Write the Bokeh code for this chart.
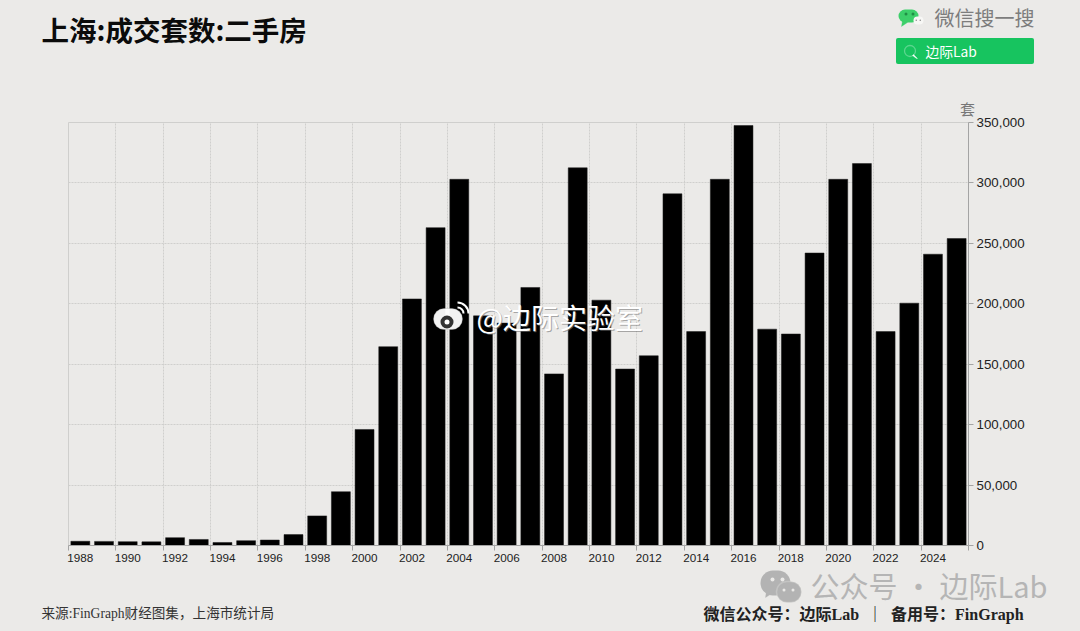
from math import pi
from bokeh.embed import file_html
from bokeh.resources import INLINE
from bokeh.plotting import figure
from bokeh.models import (Range1d, LinearAxis, FixedTicker, CustomJSTickFormatter, NumeralTickFormatter,
                          Grid, Label, BoxAnnotation, PolyAnnotation)

years = list(range(1988, 2026))
deals = [3500, 3400, 3200, 3000, 6500, 5000, 2500, 4000, 4500, 9000,
         24500, 44500, 96000, 164500, 204000, 263000, 303000, 190000, 184000, 213500,
         142000, 312500, 203000, 146000, 157000, 291000, 177000, 303000, 347500, 179000,
         175000, 242000, 303000, 316000, 177000, 200500, 241000, 254000]
label_years = list(range(1988, 2025, 2))
grid_years = list(range(1988, 2027, 2))
y_ticks = [0, 50000, 100000, 150000, 200000, 250000, 300000, 350000]

BG = "#ebeae8"
GRID = "#cfcfcd"
AX = "#a4a4a4"
CJK = "Noto Sans CJK SC"
SERIF = "Liberation Serif, Noto Sans CJK SC"

p = figure(width=1080, height=631, output_backend="svg", toolbar_location=None,
           x_range=Range1d(1988, 2026), y_range=Range1d(0, 350000),
           x_axis_location=None, y_axis_location=None,
           min_border_left=68, min_border_top=122, min_border_right=112, min_border_bottom=86,
           frame_width=900, frame_height=423,
           background_fill_color=BG, border_fill_color=BG,
           outline_line_color=GRID, outline_line_width=1)
p.styles = {"position": "absolute", "left": "0", "top": "0"}

p.vbar(x=[y + 0.5 for y in years], top=deals, bottom=0, width=0.8,
       fill_color="#000000", line_color="#1a1a1a", line_width=0.5)

xaxis = LinearAxis(
    ticker=FixedTicker(ticks=[y + 0.5 for y in label_years], minor_ticks=grid_years),
    formatter=CustomJSTickFormatter(code="return String(Math.floor(tick))"),
    major_tick_out=0, major_tick_in=0, minor_tick_out=5, minor_tick_in=0,
    minor_tick_line_color=AX, axis_line_color=AX,
    major_label_text_font="Liberation Sans", major_label_text_font_size="11.7px",
    major_label_text_color="#222222", major_label_standoff=3)
p.add_layout(xaxis, "below")

yaxis = LinearAxis(
    ticker=FixedTicker(ticks=y_ticks), formatter=NumeralTickFormatter(format="0,0"),
    major_tick_out=5, major_tick_in=0, minor_tick_out=0, minor_tick_in=0,
    major_tick_line_color=AX, axis_line_color=AX,
    major_label_text_font="Liberation Sans", major_label_text_font_size="13.3px",
    major_label_text_color="#222222", major_label_standoff=3)
p.add_layout(yaxis, "right")

p.grid.visible = False
p.add_layout(Grid(dimension=0, ticker=FixedTicker(ticks=grid_years), grid_line_color=GRID,
                  grid_line_dash=[2, 1], level="underlay"))
p.add_layout(Grid(dimension=1, ticker=FixedTicker(ticks=y_ticks), grid_line_color=GRID,
                  grid_line_dash=[2, 1], level="underlay"))

# Transparent layer over the whole canvas: its data units are page pixels.
o = figure(width=1080, height=631, output_backend="svg", toolbar_location=None,
           x_range=Range1d(0, 1080), y_range=Range1d(631, 0),
           x_axis_location=None, y_axis_location=None,
           min_border=0, outline_line_color=None,
           background_fill_alpha=0, border_fill_alpha=0)
o.grid.visible = False
o.styles = {"position": "absolute", "left": "0", "top": "0"}


def txt(s, x, y, size, color="#111111", font=CJK, style="normal", align="left", alpha=1.0):
    o.add_layout(Label(x=x, y=y, text=s, text_font=font, text_font_size=f"{size}px",
                       text_font_style=style, text_color=color, text_align=align,
                       text_baseline="middle", text_alpha=alpha))


def box(l, t, r, b, color, radius=0, line=None, lw=1, alpha=1.0):
    o.add_layout(BoxAnnotation(left=l, right=r, top=t, bottom=b, fill_color=color, fill_alpha=alpha,
                               line_color=line, line_width=lw, border_radius=radius, editable=False))


def poly(pts, color):
    o.add_layout(PolyAnnotation(xs=[a for a, _ in pts], ys=[b for _, b in pts], fill_color=color,
                                fill_alpha=1, line_color=color, line_width=1))


txt("上海:成交套数:二手房", 41, 28, 27.5, "#0b0b0b", style="bold")
txt("套", 967, 108, 15, "#777777", align="center")

# WeChat search badge
G = "#3ccf6a"
box(898, 9, 918, 22, G, radius=7)
poly([(902, 20), (901, 26), (907, 22)], G)
box(904, 12, 907, 15, "#1f8f45", radius=2)
box(911, 12, 914, 15, "#1f8f45", radius=2)
box(913, 16, 923, 24, "#f7f7f5", radius=4)
box(915, 19, 916.5, 20.5, "#8a8a8a", radius=1)
box(919, 19, 920.5, 20.5, "#8a8a8a", radius=1)
txt("微信搜一搜", 934, 16.5, 20, "#7d7d7d")
box(895.5, 37.5, 1033.5, 63.5, "#17c45f", radius=2)
box(904, 45, 915, 56, "#17c45f", radius=6, line="#ffffff", lw=1.3)
poly([(913, 54), (917, 58), (916, 58), (912, 55)], "#ffffff")
txt("边际Lab", 925, 50, 13.8, "#ffffff")

# Weibo watermark
box(433, 308, 462, 329, "#ffffff", radius=11, line="#9a9a9a", alpha=0.95)
box(440, 315, 453, 328, "#333333", radius=7)
box(444, 319, 449, 324, "#ffffff", radius=3)
o.arc(x=[457, 457], y=[313, 313], radius=[6, 11], start_angle=[0, 0], end_angle=[pi / 2, pi / 2],
      line_color="#ffffff", line_width=2)
txt("@边际实验室", 477, 317, 28, "#777777", alpha=0.6)
txt("@边际实验室", 476, 316, 28, "#ffffff")

# WeChat public account watermark
W = "#b3b3b3"
box(760, 570, 790, 595, W, radius=13)
poly([(766, 590), (765, 597), (773, 592)], W)
box(770, 577, 774, 581, BG, radius=2)
box(780, 577, 784, 581, BG, radius=2)
box(776, 581, 801, 602, W, radius=11, line=BG, lw=1.5)
box(782, 588, 785, 591, BG, radius=2)
box(791, 588, 794, 591, BG, radius=2)
txt("公众号 · 边际Lab", 810, 584, 29, "#b5b5b5")

# Footer
txt("来源:FinGraph财经图集，上海市统计局", 41, 613, 13.6, "#333333", font=SERIF)
txt("微信公众号：边际Lab\u00a0\u00a0｜\u00a0\u00a0备用号：FinGraph", 703, 614, 16, "#222222", font=SERIF, style="bold")

html = file_html((p, o), INLINE)
html = html.replace("<head>", f"<head><style>html,body{{background:{BG};}}</style>", 1)
open("out.html", "w", encoding="utf-8").write(html)
